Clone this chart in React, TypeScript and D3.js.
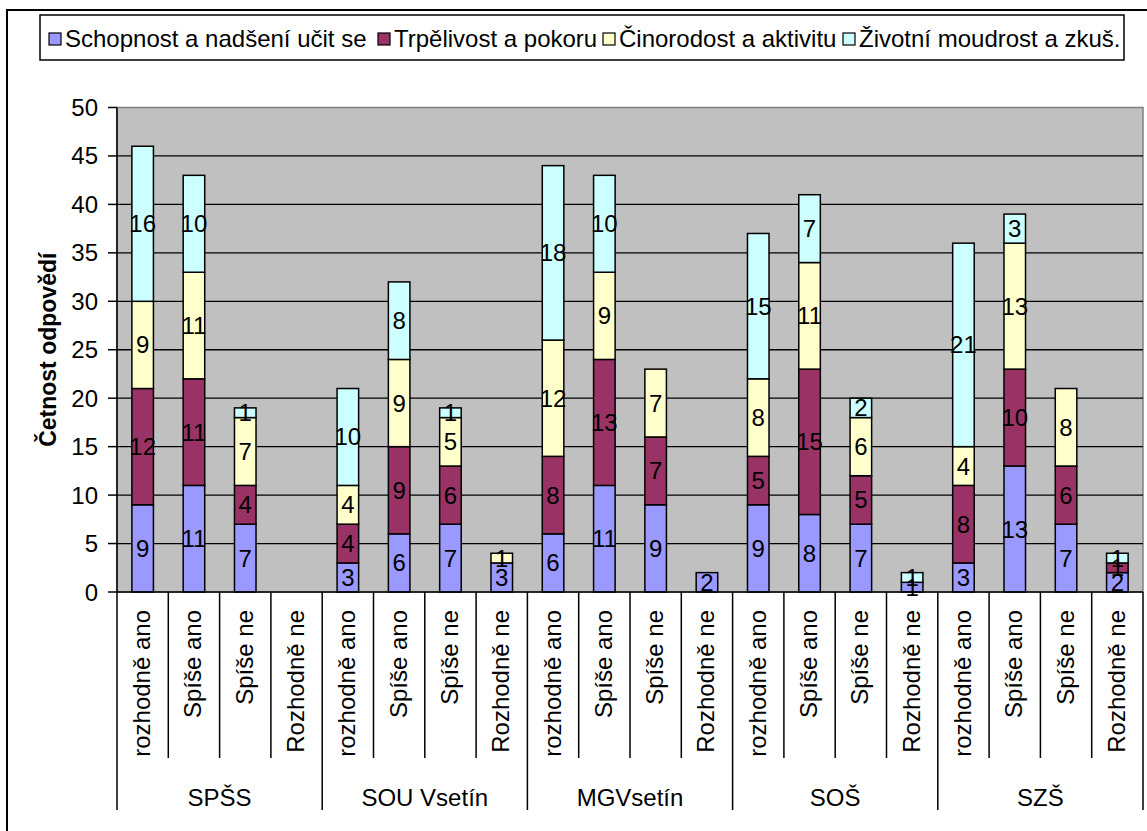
import React from "react";
import * as d3 from "d3";

const groups = ["SPŠS", "SOU Vsetín", "MGVsetín", "SOŠ", "SZŠ"];
const answers = ["rozhodně ano", "Spíše ano", "Spíše ne", "Rozhodně ne"];
const seriesNames = [
  "Schopnost a nadšení učit se",
  "Trpělivost a pokoru",
  "Činorodost a aktivitu",
  "Životní moudrost a zkuš.",
];
const seriesColors = ["#9999FF", "#993366", "#FFFFCC", "#CCFFFF"];

// values per bar, 4 answers x 5 schools
const schopnost = [9, 11, 7, 0, 3, 6, 7, 3, 6, 11, 9, 2, 9, 8, 7, 1, 3, 13, 7, 2];
const trpelivost = [12, 11, 4, 0, 4, 9, 6, 0, 8, 13, 7, 0, 5, 15, 5, 0, 8, 10, 6, 1];
const cinorodost = [9, 11, 7, 0, 4, 9, 5, 1, 12, 9, 7, 0, 8, 11, 6, 0, 4, 13, 8, 0];
const zivotni = [16, 10, 1, 0, 10, 8, 1, 0, 18, 10, 0, 0, 15, 7, 2, 1, 21, 3, 0, 1];
const yTicks = [0, 5, 10, 15, 20, 25, 30, 35, 40, 45, 50];

const W = 1147;
const H = 831;
const FONT = "'Liberation Sans', Arial, sans-serif";
const plot = { left: 117, right: 1143, top: 107.5, bottom: 592 };

export default function App() {
  const keys = ["s0", "s1", "s2", "s3"];
  const cats = groups.flatMap((g, gi) => answers.map((a, ai) => ({ id: gi * 4 + ai, group: g, answer: a })));
  const rows = cats.map((c) => ({
    id: c.id,
    s0: schopnost[c.id],
    s1: trpelivost[c.id],
    s2: cinorodost[c.id],
    s3: zivotni[c.id],
  }));
  const stack = d3.stack<any>().keys(keys);
  const series = stack(rows);

  const x = d3
    .scaleBand<number>()
    .domain(cats.map((c) => c.id))
    .range([plot.left, plot.right])
    .padding(0);
  const y = d3.scaleLinear().domain([0, 50]).range([plot.bottom, plot.top]);
  const bw = x.bandwidth() * 0.42;

  const legendX = [49, 378, 603, 843];

  return (
    <svg
      width={W}
      height={H}
      style={{ position: "absolute", left: 0, top: 0, background: "#fff" }}
      fontFamily={FONT}
    >
      <rect x={7} y={10} width={W + 20} height={H + 20} fill="#fff" stroke="#000" strokeWidth={2} />

      {/* legend */}
      <rect x={40} y={15} width={1084} height={45} fill="#fff" stroke="#000" strokeWidth={1.5} />
      {seriesNames.map((n, i) => (
        <g key={n}>
          <rect x={legendX[i]} y={33} width={12} height={12} fill={seriesColors[i]} stroke="#000" strokeWidth={1.2} />
          <text x={legendX[i] + 16} y={47} fontSize={24} fill="#000">
            {n}
          </text>
        </g>
      ))}

      {/* plot area */}
      <rect
        x={plot.left}
        y={plot.top}
        width={plot.right - plot.left}
        height={plot.bottom - plot.top}
        fill="#C0C0C0"
        stroke="#808080"
        strokeWidth={1.5}
      />
      {yTicks.slice(1, -1).map((t) => (
        <line key={t} x1={plot.left} x2={plot.right} y1={y(t)} y2={y(t)} stroke="#000" strokeWidth={1.3} />
      ))}

      {/* bars */}
      {series.map((s, si) =>
        s.map((d, i) => {
          const v = d[1] - d[0];
          if (v <= 0) return null;
          const cx = (x(i) as number) + x.bandwidth() / 2;
          return (
            <rect
              key={si + "-" + i}
              x={cx - bw / 2}
              y={y(d[1])}
              width={bw}
              height={y(d[0]) - y(d[1])}
              fill={seriesColors[si]}
              stroke="#000"
              strokeWidth={1.5}
            />
          );
        })
      )}
      {series.map((s, si) =>
        s.map((d, i) => {
          const v = d[1] - d[0];
          if (v <= 0) return null;
          const cx = (x(i) as number) + x.bandwidth() / 2;
          return (
            <text
              key={"l" + si + "-" + i}
              x={cx}
              y={y((d[0] + d[1]) / 2)}
              textAnchor="middle"
              dominantBaseline="central"
              fontSize={24}
              fill="#000"
            >
              {v}
            </text>
          );
        })
      )}

      {/* y axis */}
      <line x1={plot.left} x2={plot.left} y1={plot.top} y2={810} stroke="#000" strokeWidth={1.5} />
      {yTicks.map((t) => (
        <g key={t}>
          <line x1={plot.left - 9} x2={plot.left} y1={y(t)} y2={y(t)} stroke="#000" strokeWidth={1.5} />
          <text x={98} y={y(t)} textAnchor="end" dominantBaseline="central" fontSize={24} fill="#000">
            {t}
          </text>
        </g>
      ))}
      <text
        transform={`translate(48,${(plot.top + plot.bottom) / 2}) rotate(-90)`}
        textAnchor="middle"
        dominantBaseline="central"
        fontSize={23}
        fontWeight="bold"
        fill="#000"
      >
        Četnost odpovědí
      </text>

      {/* x axis */}
      <line x1={plot.left} x2={plot.right} y1={plot.bottom} y2={plot.bottom} stroke="#000" strokeWidth={1.5} />
      {cats.map((c) => (
        <line
          key={"sep" + c.id}
          x1={(x(c.id) as number) + x.bandwidth()}
          x2={(x(c.id) as number) + x.bandwidth()}
          y1={plot.bottom}
          y2={(c.id + 1) % 4 === 0 ? 810 : 758}
          stroke="#000"
          strokeWidth={1.5}
        />
      ))}
      {cats.map((c) => {
        const cx = (x(c.id) as number) + x.bandwidth() / 2 - 1;
        return (
          <text
            key={"cl" + c.id}
            transform={`translate(${cx},610) rotate(-90)`}
            textAnchor="end"
            dominantBaseline="central"
            fontSize={24}
            fill="#000"
          >
            {c.answer}
          </text>
        );
      })}
      {groups.map((g, gi) => {
        const x0 = x(gi * 4) as number;
        const x1 = (x(gi * 4 + 3) as number) + x.bandwidth();
        return (
          <text key={g} x={(x0 + x1) / 2} y={797} textAnchor="middle" dominantBaseline="central" fontSize={24} fill="#000">
            {g}
          </text>
        );
      })}
    </svg>
  );
}
